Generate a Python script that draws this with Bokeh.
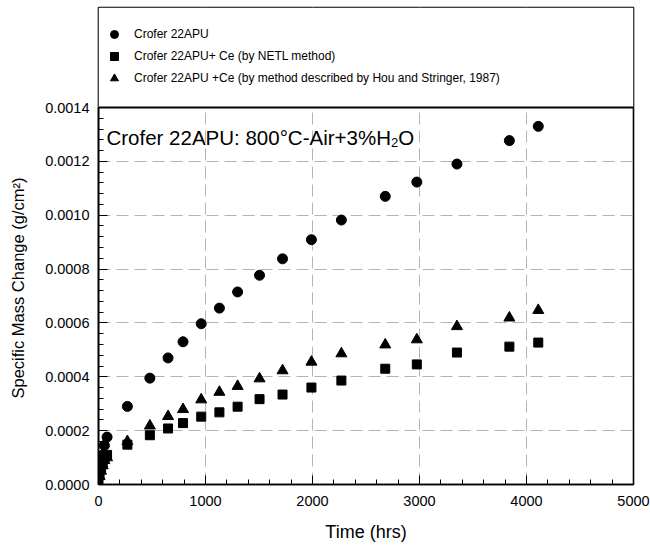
from bokeh.plotting import figure
from bokeh.models import (Range1d, SingleIntervalTicker, PrintfTickFormatter, Legend,
                          LegendItem, Label, BoxAnnotation, Span, Title)
from bokeh.embed import file_html
from bokeh.resources import INLINE

# ---------------- data ----------------
time_plain = [10, 24, 40, 55, 80, 270, 480, 650, 790, 960, 1130, 1300, 1505, 1720,
              1990, 2270, 2680, 2975, 3350, 3840, 4110]
mass_plain = [0.000065, 0.00008, 0.00011, 0.000145, 0.000176, 0.00029, 0.000395, 0.00047,
              0.00053, 0.000597, 0.000655, 0.000715, 0.000777, 0.000838, 0.000909, 0.000982,
              0.00107, 0.001123, 0.00119, 0.001277, 0.00133]

time_netl = [0, 10, 24, 40, 55, 80, 270, 480, 650, 790, 960, 1130, 1300, 1505, 1720,
             1990, 2270, 2680, 2975, 3350, 3840, 4110]
mass_netl = [0.0, 0.00004, 0.00006, 0.00008, 0.0001, 0.00011, 0.000148, 0.000183, 0.000208,
             0.000228, 0.000252, 0.000268, 0.000289, 0.000317, 0.000334, 0.00036, 0.000386,
             0.00043, 0.000446, 0.00049, 0.000512, 0.000527]

time_hou = [10, 24, 40, 55, 80, 270, 480, 650, 790, 960, 1130, 1300, 1505, 1720,
            1990, 2270, 2680, 2975, 3350, 3840, 4110]
mass_hou = [0.00003, 0.00005, 0.00007, 0.00009, 0.0001, 0.00016, 0.000218, 0.000253,
            0.000279, 0.000315, 0.000343, 0.000365, 0.000393, 0.000423, 0.000455, 0.000486,
            0.000519, 0.000538, 0.000587, 0.000619, 0.000647]

series_labels = ["Crofer 22APU",
                 "Crofer 22APU+ Ce (by NETL method)",
                 "Crofer 22APU +Ce (by method described by Hou and Stringer, 1987)"]

x_start, x_end, x_step = 0, 5000, 1000
y_start, y_end, y_step = 0.0, 0.0014, 0.0002

# ---------------- layout constants ----------------
W, H = 650, 545
BL, BR, BT, BB = 96, 17, 7, 61
PLOT_H = 377          # pixel height of the data area (0 .. 0.0014)
frame_w = W - BL - BR
frame_h = H - BT - BB
px_per_x = frame_w / (x_end - x_start)
px_per_y = PLOT_H / (y_end - y_start)
y_top = y_end + (frame_h - PLOT_H) / px_per_y
FONT = "Liberation Sans"

p = figure(width=W, height=H, output_backend="svg", toolbar_location=None,
           x_range=Range1d(x_start, x_end), y_range=Range1d(y_start, y_top),
           min_border_left=BL, min_border_right=BR, min_border_top=BT, min_border_bottom=BB)
p.background_fill_color = "white"
p.border_fill_color = "white"
p.outline_line_color = "black"
p.outline_line_width = 1.6

# axes
p.xaxis.ticker = SingleIntervalTicker(interval=x_step, num_minor_ticks=5)
p.yaxis.ticker = SingleIntervalTicker(interval=y_step, num_minor_ticks=5)
p.yaxis.formatter = PrintfTickFormatter(format="%.4f")
p.yaxis.bounds = (y_start, y_end)
for ax in (p.xaxis[0], p.yaxis[0]):
    ax.axis_line_color = "black"
    ax.axis_line_width = 1.6
    ax.major_tick_in = 9
    ax.major_tick_out = 0
    ax.minor_tick_in = 5
    ax.minor_tick_out = 0
    ax.major_tick_line_color = "black"
    ax.minor_tick_line_color = "black"
    ax.major_label_text_font = FONT
    ax.major_label_text_font_size = "14.5px"
    ax.major_label_text_color = "black"
    ax.axis_label_text_font = FONT
    ax.axis_label_text_font_style = "normal"
    ax.axis_label_text_color = "black"
p.xaxis.axis_label = "Time (hrs)"
p.xaxis.axis_label_text_font_size = "18px"
p.xaxis.major_label_standoff = 11
p.xaxis.axis_label_standoff = 13
p.yaxis.major_label_standoff = 9
# small spacer between the tick labels and the y title
p.yaxis.axis_label = " "
p.yaxis.axis_label_text_font_size = "1px"
p.yaxis.axis_label_standoff = 6

# y-axis title, aligned with the data area (not the whole frame)
y_title = Title(text="Specific Mass Change (g/cm\u00b2)", align="left", offset=86,
                text_font=FONT, text_font_size="16.5px", text_font_style="normal",
                text_color="black", standoff=12)
p.add_layout(y_title, "left")

# grid
for g in (p.xgrid[0], p.ygrid[0]):
    g.grid_line_color = "#b4b4b4"
    g.grid_line_width = 1
    g.grid_line_dash = "12 6"
p.ygrid.bounds = (y_start, y_end)

# data
r1 = p.scatter(time_plain, mass_plain, marker="circle", size=10, color="black")
r2 = p.scatter(time_netl, mass_netl, marker="square", size=9, color="black")
r3 = p.scatter(time_hou, mass_hou, marker="triangle", size=11, color="black")

# legend box region (above the data area)
p.add_layout(BoxAnnotation(bottom=y_end, fill_color="white", fill_alpha=1,
                           line_alpha=0))
p.add_layout(Span(location=y_end, dimension="width", line_color="black", line_width=1.8))

legend = Legend(items=[LegendItem(label=series_labels[0], renderers=[r1]),
                       LegendItem(label=series_labels[1], renderers=[r2]),
                       LegendItem(label=series_labels[2], renderers=[r3])],
                location=(0, frame_h - 11 - 76),
                glyph_width=20, glyph_height=20, label_height=20,
                padding=6, spacing=2, label_standoff=10, margin=0,
                label_text_font=FONT, label_text_font_size="12px", label_text_color="black",
                border_line_alpha=0, background_fill_alpha=0)
p.add_layout(legend, "center")

# annotation
ann_x = x_start + 8 / px_per_x
ann_y = y_start + 347.3 / px_per_y
main_txt = "Crofer 22APU: 800\u00b0C-Air+3%H"
p.add_layout(Label(x=ann_x, y=ann_y, text=main_txt, text_font=FONT, text_font_size="20.5px",
                   text_baseline="alphabetic", text_color="black"))
p.add_layout(Label(x=ann_x, y=ann_y, x_offset=284.5, y_offset=-5, text="2", text_font=FONT,
                   text_font_size="13px", text_baseline="alphabetic", text_color="black"))
p.add_layout(Label(x=ann_x, y=ann_y, x_offset=291.8, text="O", text_font=FONT,
                   text_font_size="20.5px", text_baseline="alphabetic", text_color="black"))

open("out.html", "w").write(file_html(p, INLINE))
